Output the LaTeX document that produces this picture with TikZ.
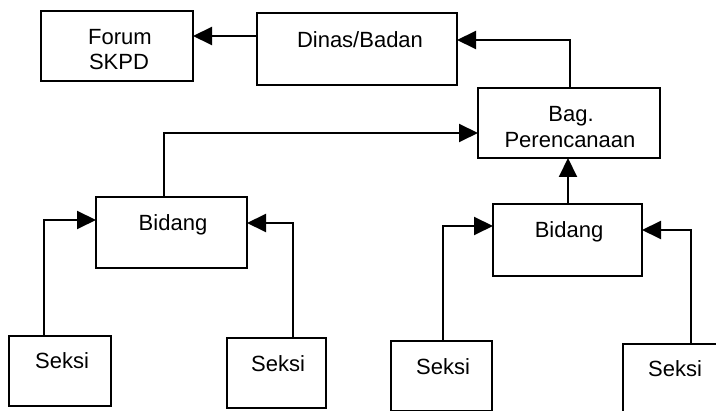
\documentclass[tikz,border=0pt]{standalone}
\usepackage{fontspec}
\setmainfont{Liberation Sans}
\usetikzlibrary{arrows.meta}
\tikzset{
  box/.style={draw, line width=2pt, inner sep=0pt, outer sep=0pt},
  lbl/.style={inner sep=0pt, anchor=base, font=\fontsize{22}{26}\selectfont},
  arr/.style={line width=2pt, -{Triangle[length=19pt,width=18pt]}},
  con/.style={line width=2pt}
}
\begin{document}
\begin{tikzpicture}[x=1pt,y=-1pt]
\useasboundingbox (0,0) rectangle (716,411);
\clip (0,0) rectangle (716,411);
\fill[white] (0,0) rectangle (716,411);
% boxes
\node[box, minimum width=152pt, minimum height=70pt] (forum) at (117,46) {};
\node[box, minimum width=200pt, minimum height=72pt] (dinas) at (357,49) {};
\node[box, minimum width=182pt, minimum height=70pt] (bag) at (569,123) {};
\node[box, minimum width=151pt, minimum height=71pt] (bidL) at (171.5,232.5) {};
\node[box, minimum width=149pt, minimum height=72pt] (bidR) at (567.5,240) {};
\node[box, minimum width=102pt, minimum height=70pt] (s1) at (60,371) {};
\node[box, minimum width=99pt, minimum height=70pt] (s2) at (276.5,373) {};
\node[box, minimum width=101pt, minimum height=70pt] (s3) at (441.5,376) {};
\node[box, minimum width=110pt, minimum height=80pt] (s4) at (678,384) {};
% texts
\node[lbl] (tforum) at (120,45) {Forum};
\node[lbl] (tskpd) at (119,70) {SKPD};
\node[lbl] (tdinas) at (360,48) {Dinas/Badan};
\node[lbl] (tbag) at (571,122) {Bag.};
\node[lbl] (tper) at (570,148) {Perencanaan};
\node[lbl] (tbidL) at (173,231) {Bidang};
\node[lbl] (tbidR) at (569,238) {Bidang};
\node[lbl] (ts1) at (62,369) {Seksi};
\node[lbl] (ts2) at (278,372) {Seksi};
\node[lbl] (ts3) at (443,375) {Seksi};
\node[lbl] (ts4) at (675,377) {Seksi};
% connectors
\draw[arr] (dinas.west |- 0,36) -- (forum.east |- 0,36);
\draw[arr] (bag.north -| 570,0) |- (dinas.east |- 0,40);
\draw[arr] (bidL.north -| 164,0) |- (bag.west |- 0,133);
\draw[arr] (bidR.north -| 568,0) -- (bag.south -| 568,0);
\draw[arr] (s1.north -| 44,0) |- (bidL.west |- 0,220);
\draw[arr] (s2.north -| 293,0) |- (bidL.east |- 0,223);
\draw[arr] (s3.north -| 443,0) |- (bidR.west |- 0,226);
\draw[arr] (s4.north -| 691,0) |- (bidR.east |- 0,230);
\end{tikzpicture}
\end{document}
